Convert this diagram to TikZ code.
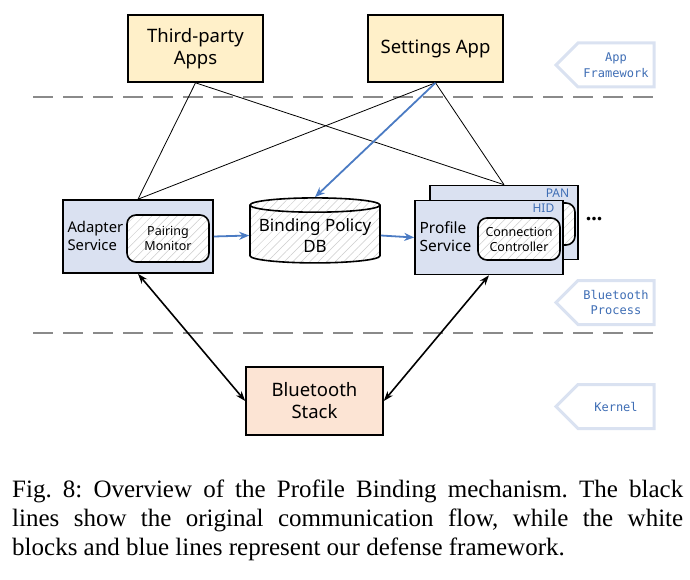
\documentclass[tikz,border=0pt]{standalone}
\usepackage{fontspec}
\setmainfont{Liberation Serif}
\newfontfamily\diagfont{Noto Sans}
\newfontfamily\tagfont{DejaVu Sans Mono}
\usepackage{tikz}
\usetikzlibrary{positioning,calc,arrows.meta,shapes.geometric,shapes.symbols,patterns.meta}

\definecolor{appyellow}{HTML}{FFF0C9}
\definecolor{svcblue}{HTML}{DAE1F1}
\definecolor{stackpeach}{HTML}{FCE4D4}
\definecolor{flowblue}{HTML}{4B7BC3}
\definecolor{tagedge}{HTML}{DAE2F1}
\definecolor{tagtext}{HTML}{3F6EB5}
\definecolor{sepgray}{HTML}{8A8A8A}

\begin{document}
\begin{tikzpicture}[x=1pt,y=-1pt,
    appbox/.style={draw, line width=1.6pt, fill=appyellow, minimum width=135pt, minimum height=67pt, align=center, font=\diagfont\fontsize{18.5}{22}\selectfont},
    svcbox/.style={draw, line width=1.6pt, fill=svcblue, minimum width=148pt, minimum height=74pt},
    innerbox/.style={draw, line width=1.6pt, rounded corners=9pt, preaction={fill=white}, pattern={Lines[angle=45,distance=6pt,line width=0.5pt]}, pattern color=gray!40, minimum width=82pt, align=center, font=\diagfont\fontsize{12.5}{15}\selectfont},
    tagbox/.style={signal, signal to=west, draw=tagedge, line width=3pt, fill=white, minimum width=98pt, minimum height=44pt, align=center, text=tagtext, font=\tagfont\fontsize{12}{15.5}\selectfont},
    seprule/.style={sepgray, line width=2.5pt, dash pattern=on 20pt off 10pt},
    plain/.style={line width=0.8pt},
    bluearrow/.style={flowblue, line width=1.8pt, -{Stealth[length=10pt,width=8pt]}},
    busarrow/.style={line width=1.6pt, {Stealth[length=10pt,width=7pt]}-{Stealth[length=10pt,width=7pt]}}]

    \useasboundingbox (0,0) rectangle (690,580);

    % layer separators
    \draw[seprule] (33,97) -- (656,97);
    \draw[seprule] (33,333) -- (656,333);

    % layer tags
    \node[tagbox] (tagapp) at (616,65) {App\\Framework};
    \node[tagbox] (tagproc) at (616,302.5) {Bluetooth\\Process};
    \node[tagbox] (tagkern) at (616,406.5) {Kernel};

    % apps
    \node[appbox] (third) at (195.5,48.5) {Third-party\\Apps};
    \node[appbox] (settings) at (435.5,48.5) {Settings App};

    % profile stack (back copy first)
    \node[svcbox] (pan) at (504,222.5) {};
    \node[innerbox, minimum height=42pt] (paninner) at (534,224) {};
    \node[tagtext, font=\diagfont\fontsize{12}{14}\selectfont, anchor=north east] at ($(pan.north east)+(-6,1)$) {PAN};
    \node[svcbox] (profile) at (489,237.5) {};
    \node[innerbox, minimum height=42pt] (conn) at (519,239) {Connection\\Controller};
    \node[tagtext, font=\diagfont\fontsize{12}{14}\selectfont, anchor=north east] (hid) at ($(profile.north east)+(-6,1)$) {HID};
    \node[font=\diagfont\fontsize{15.5}{18}\selectfont, align=left, anchor=west] at (416,237) {Profile\\Service};
    \node[font=\bfseries\fontsize{22}{22}\selectfont] (more) at (594,219) {...};

    % adapter
    \node[svcbox, minimum width=150pt, minimum height=73pt] (adapter) at (138,236.5) {};
    \node[font=\diagfont\fontsize{14.8}{18}\selectfont, align=left, anchor=west] at (64,236) {Adapter\\Service};
    \node[innerbox, minimum height=47pt] (pairing) at (168,238.5) {Pairing\\Monitor};

    % policy database
    \node[cylinder, shape border rotate=90, aspect=0.12, draw, line width=1.6pt, preaction={fill=white}, pattern={Lines[angle=45,distance=6pt,line width=0.5pt]}, pattern color=gray!40, minimum width=130pt, minimum height=65pt, align=center, font=\diagfont\fontsize{17}{21}\selectfont] (db) at (315,235.5) {Binding Policy\\DB};

    % kernel stack
    \node[draw, line width=1.6pt, fill=stackpeach, minimum width=137pt, minimum height=68pt, align=center, font=\diagfont\fontsize{18.5}{22}\selectfont] (stack) at (314.5,401) {Bluetooth\\Stack};

    % original flow
    \draw[plain] (third.south) -- (adapter.north);
    \draw[plain] (third.south) -- (pan.north);
    \draw[plain] (settings.south) -- (adapter.north);
    \draw[plain] (settings.south) -- (pan.north);
    \draw[busarrow] (adapter.south) -- (stack.west);
    \draw[busarrow] (profile.south) -- (stack.east);

    % defense flow
    \draw[bluearrow] (settings.south) -- (db.north);
    \draw[bluearrow] (adapter.east) -- (db.west);
    \draw[bluearrow] (db.east) -- (profile.west);

    \node[anchor=base west, text width=671pt, align=justify, inner sep=0pt, font=\frenchspacing\fontsize{25}{29}\selectfont] (caption) at (12,497) {Fig.~8: Overview of the Profile Binding mechanism. The black\linebreak lines show the original communication flow, while the white\linebreak blocks and blue lines represent our defense framework.};
\end{tikzpicture}
\end{document}
